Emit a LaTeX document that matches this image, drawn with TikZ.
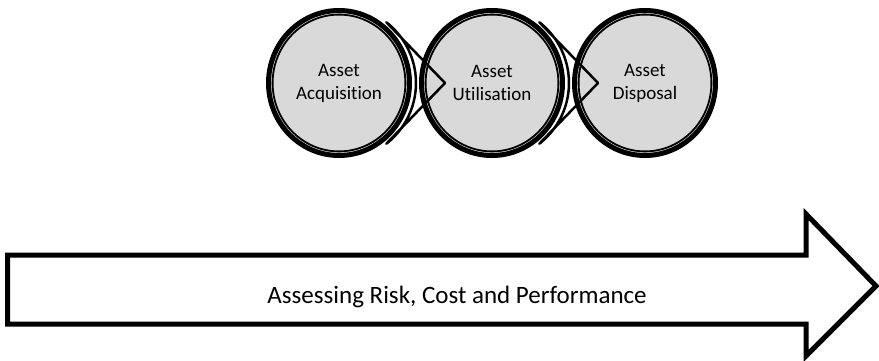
\documentclass[tikz,border=0pt]{standalone}
\usepackage{fontspec}
\setmainfont{Carlito}[Ligatures=NoCommon]
\usetikzlibrary{calc,shapes.geometric}
\tikzset{
  stage/.style={draw, ellipse, line width=5pt, fill=black!15, minimum width=141pt,
    minimum height=145pt, inner sep=0pt, align=center, font=\fontsize{19}{23}\selectfont},
  ring/.style={line width=1.8pt},
  link/.style={line width=2.5pt, line join=round},
  band/.style={line width=5pt, fill=white, line join=miter},
}
\begin{document}
\begin{tikzpicture}[x=1pt, y=-1pt]
\useasboundingbox (0,0) rectangle (879,361);
% the three stages
\node[stage] (1) at (339,83) {Asset\\Acquisition};
\node[stage] (2) at (492,83) {Asset\\Utilisation};
\node[stage] (3) at (645,83) {Asset\\Disposal};
\draw[ring] (1.center) ellipse[x radius=66.4, y radius=68.4];
\draw[ring] (2.center) ellipse[x radius=66.4, y radius=68.4];
\draw[ring] (3.center) ellipse[x radius=66.4, y radius=68.4];
% pointers from one stage into the next
\path[draw,link] (1.center) ++(52.1:77) arc[start angle=52.1, end angle=-52.1, radius=77]
  -- ($(1.center)+(106,0)$) -- cycle;
\path[draw,link] (2.center) ++(52.1:77) arc[start angle=52.1, end angle=-52.1, radius=77]
  -- ($(2.center)+(106,0)$) -- cycle;
% long arrow underneath
\path[draw,band] (7.5,255) -- (806,255) -- (806,214) -- (876,286) -- (806,356)
  -- (806,324) -- (7.5,324) -- cycle;
\node[font=\fontsize{25}{30}\selectfont] (lbl) at (457,297) {Assessing Risk, Cost and Performance};
\end{tikzpicture}
\end{document}
